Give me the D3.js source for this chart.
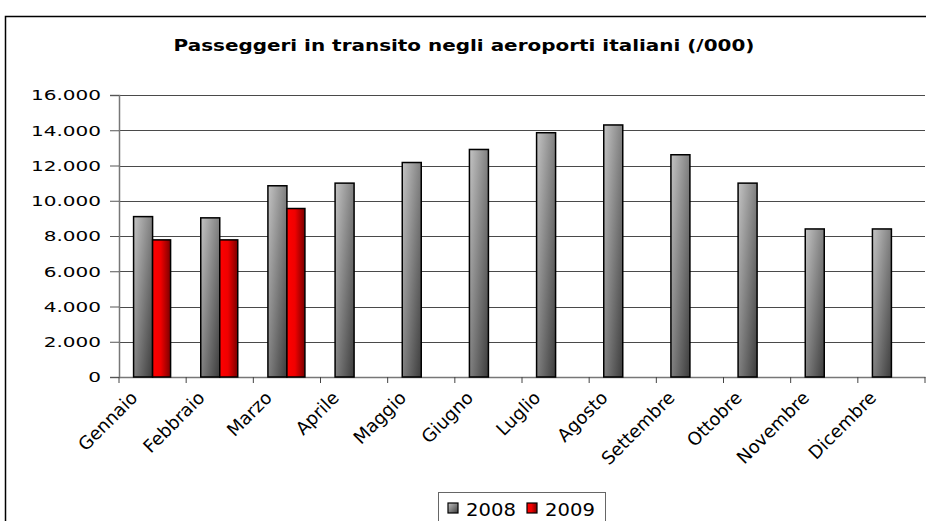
<!DOCTYPE html>
<html>
<head>
<meta charset="utf-8">
<script src="https://cdn.jsdelivr.net/npm/d3@7"></script>
<style>
  html, body { margin: 0; padding: 0; background: #fff; }
  svg { display: block; font-family: "DejaVu Sans", Verdana, sans-serif; }
</style>
</head>
<body>
<div id="chart"></div>
<script>
// ── dati ──
const mesi = ['Gennaio', 'Febbraio', 'Marzo', 'Aprile', 'Maggio', 'Giugno',
              'Luglio', 'Agosto', 'Settembre', 'Ottobre', 'Novembre', 'Dicembre'];
const serie = ['2008', '2009'];
const valori2008 = [9100, 9030, 10850, 11000, 12170, 12910, 13860, 14300, 12610, 11000, 8400, 8400];
const valori2009 = [7780, 7780, 9560];
const yTicks = [0, 2000, 4000, 6000, 8000, 10000, 12000, 14000, 16000];

const W = 926, H = 521;
const M = { left: 119, right: 926 - 925, top: 95, bottom: 521 - 377 };

const svg = d3.select('#chart').append('svg').attr('width', W).attr('height', H);

// ── gradienti ──
const defs = svg.append('defs');
const gGray = defs.append('linearGradient').attr('id', 'grGray')
  .attr('x1', '0%').attr('y1', '0%').attr('x2', '100%').attr('y2', '100%');
gGray.append('stop').attr('offset', '0%').attr('stop-color', '#c4c4c4');
gGray.append('stop').attr('offset', '100%').attr('stop-color', '#3c3c3c');
const gRed = defs.append('linearGradient').attr('id', 'grRed')
  .attr('x1', '0%').attr('y1', '0%').attr('x2', '100%').attr('y2', '0%');
gRed.append('stop').attr('offset', '0%').attr('stop-color', '#ff0000');
gRed.append('stop').attr('offset', '45%').attr('stop-color', '#f00000');
gRed.append('stop').attr('offset', '100%').attr('stop-color', '#7a0000');

// cornice
svg.append('rect').attr('x', 5.5).attr('y', 16.5).attr('width', 940).attr('height', 540)
  .attr('fill', 'none').attr('stroke', '#000').attr('stroke-width', 1.5);

// titolo (il font originale è più largo: allargo in orizzontale)
svg.append('text').attr('transform', 'translate(464,51) scale(1.21,1)')
  .attr('text-anchor', 'middle')
  .attr('font-size', 16.5).attr('font-weight', 'bold').attr('fill', '#000')
  .text('Passeggeri in transito negli aeroporti italiani (/000)');

// ── scale ──
const x = d3.scaleBand().domain(mesi).range([M.left, W - M.right]).padding(0);
const y = d3.scaleLinear().domain([0, 16000]).range([H - M.bottom, M.top]);
const fmt = v => d3.format(',')(v).replace(/,/g, '.');

// griglia
svg.append('g').selectAll('line').data(yTicks.slice(1)).enter().append('line')
  .attr('x1', M.left).attr('x2', W - M.right)
  .attr('y1', d => Math.round(y(d)) + 0.5).attr('y2', d => Math.round(y(d)) + 0.5)
  .attr('stroke', '#4a4a4a').attr('stroke-width', 1.2);

// asse y
const yAxis = svg.append('g').attr('transform', `translate(${M.left},0)`)
  .call(d3.axisLeft(y).tickValues(yTicks).tickFormat('').tickSize(9));
yAxis.select('.domain').attr('stroke', '#777').attr('stroke-width', 1.5);
yAxis.selectAll('.tick line').attr('stroke', '#555');
svg.append('g').selectAll('text').data(yTicks).enter().append('text')
  .attr('transform', d => `translate(101,${y(d) + 5.3}) scale(1.38,1)`)
  .attr('text-anchor', 'end').attr('font-size', 14.5).attr('fill', '#000')
  .text(fmt);

// asse x
const xAxis = svg.append('g').attr('transform', `translate(0,${H - M.bottom})`)
  .call(d3.axisBottom(x).tickSize(0).tickFormat(''));
xAxis.select('.domain').attr('stroke', '#777').attr('stroke-width', 1.5);
svg.append('g').selectAll('line').data(mesi.concat(['__end'])).enter().append('line')
  .attr('x1', (d, i) => i < mesi.length ? x(d) : W - M.right)
  .attr('x2', (d, i) => i < mesi.length ? x(d) : W - M.right)
  .attr('y1', H - M.bottom).attr('y2', H - M.bottom + 6)
  .attr('stroke', '#444');

svg.append('g').selectAll('text').data(mesi).enter().append('text')
  .attr('transform', d => `translate(${x(d) + x.bandwidth() / 2 - 14},${H - M.bottom + 22}) rotate(-45)`)
  .attr('text-anchor', 'end')
  .attr('font-size', 18).attr('fill', '#000')
  .text(d => d);

// ── barre ──
const barW = 19;
const off = x.bandwidth() / 2 - barW;
svg.append('g').selectAll('rect').data(valori2008).enter().append('rect')
  .attr('x', (d, i) => x(mesi[i]) + off).attr('width', barW)
  .attr('y', d => y(d)).attr('height', d => y(0) - y(d))
  .attr('fill', 'url(#grGray)').attr('stroke', '#000').attr('stroke-width', 1.5);
svg.append('g').selectAll('rect').data(valori2009).enter().append('rect')
  .attr('x', (d, i) => x(mesi[i]) + off + barW).attr('width', barW - 1)
  .attr('y', d => y(d)).attr('height', d => y(0) - y(d))
  .attr('fill', 'url(#grRed)').attr('stroke', '#000').attr('stroke-width', 1.5);

// ── legenda ──
const leg = svg.append('g');
leg.append('rect').attr('x', 438.5).attr('y', 492.5).attr('width', 167).attr('height', 40)
  .attr('fill', '#fff').attr('stroke', '#666').attr('stroke-width', 1);
const legX = [448, 527];
serie.forEach((s, i) => {
  leg.append('rect').attr('x', legX[i]).attr('y', 503).attr('width', 10).attr('height', 10)
    .attr('fill', i === 0 ? 'url(#grGray)' : 'url(#grRed)').attr('stroke', '#000').attr('stroke-width', 1.2);
  leg.append('text').attr('transform', `translate(${legX[i] + 18},515.5) scale(1.12,1)`)
    .attr('font-size', 17.5).attr('fill', '#000').text(s);
});
</script>
</body>
</html>
